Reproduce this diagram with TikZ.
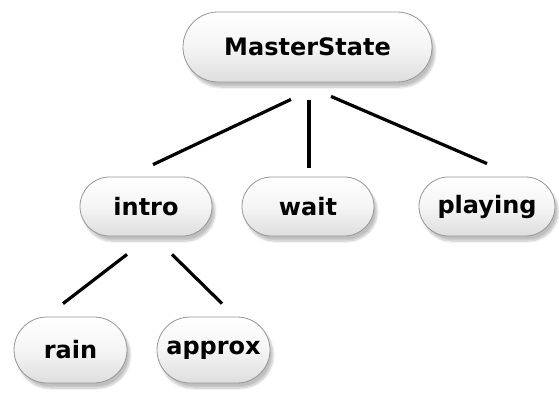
\documentclass[tikz,border=0pt]{standalone}
\usepackage{fontspec}
\setmainfont{DejaVu Sans}
\usetikzlibrary{shadows.blur}
\definecolor{nodeborder}{RGB}{150,150,150}
\definecolor{nodebottom}{RGB}{222,222,222}
\tikzset{
  state/.style={draw=nodeborder, line width=0.8pt, top color=white, bottom color=nodebottom,
    middle color=white!96!black,
    font=\fontsize{24}{28}\selectfont\bfseries, text=black, inner sep=0pt,
    blur shadow={shadow xshift=3pt, shadow yshift=-5pt, shadow blur steps=8, shadow opacity=25}},
  link/.style={line width=3.2pt, black}
}
\begin{document}
\begin{tikzpicture}[x=1pt, y=-1pt]
\useasboundingbox (0,0) rectangle (559,396);
\node[state, minimum width=249pt, minimum height=70pt, rounded corners=35pt] (m) at (307.5,47) {MasterState};
\node[state, minimum width=132pt, minimum height=59pt, rounded corners=29.5pt] (intro) at (146,206.5) {intro};
\node[state, minimum width=132pt, minimum height=59pt, rounded corners=29.5pt] (wait) at (308,206.5) {wait};
\node[state, minimum width=136pt, minimum height=59pt, rounded corners=29.5pt] (playing) at (487,206.5) {playing};
\node[state, minimum width=113pt, minimum height=66pt, rounded corners=33pt] (rain) at (70.5,350) {rain};
\node[state, minimum width=113pt, minimum height=66pt, rounded corners=33pt] (approx) at (213.5,350) {approx};
\draw[link] ([xshift=-16.5pt,yshift=-17pt]m.south) -- ([xshift=7pt,yshift=12pt]intro.north);
\draw[link] ([xshift=1.5pt,yshift=-18pt]m.south) -- ([xshift=1pt,yshift=9pt]wait.north);
\draw[link] ([xshift=23.5pt,yshift=-14pt]m.south) -- ([xshift=0pt,yshift=13pt]playing.north);
\draw[link] ([xshift=-19pt,yshift=-18pt]intro.south) -- ([xshift=-7.5pt,yshift=13pt]rain.north);
\draw[link] ([xshift=26pt,yshift=-18pt]intro.south) -- ([xshift=8.5pt,yshift=13pt]approx.north);
\end{tikzpicture}
\end{document}
